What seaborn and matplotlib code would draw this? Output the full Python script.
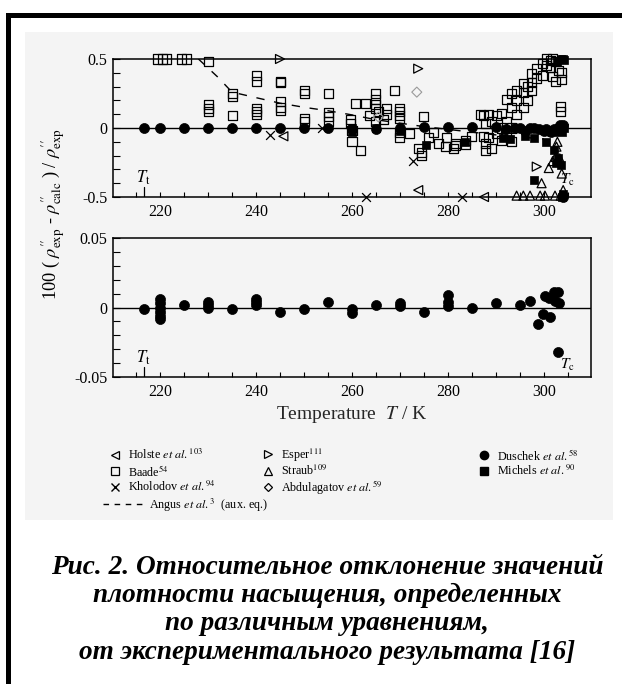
import numpy as np
import pandas as pd
import matplotlib
matplotlib.use("Agg")
import matplotlib.pyplot as plt
import seaborn as sns
from matplotlib.lines import Line2D
from matplotlib.patches import Rectangle

# ---------------- data ----------------
T_t = 216.59
T_c = 304.13

# upper panel
baade_T = [219.5, 220.5, 221.3, 224.5, 225.5,
           230, 230, 230, 230, 235, 235, 235,
           240, 240, 240, 240, 240, 245, 245, 245, 245, 245,
           250, 250, 250, 250, 255, 255, 255, 255,
           259.7, 259.7, 260, 260, 261.8, 260.8, 262.9, 263.7,
           264.8, 264.8, 264.8, 264.8, 264.8, 265.5, 266.5, 267.2, 267.2, 268.8,
           269.8, 269.8, 269.8, 269.8, 269.8, 269.8, 272, 273.8, 274.5, 274.5, 274.8,
           276, 276.9, 278, 279.4, 279.7, 281.1, 281.5, 281.5, 283.6, 283.6, 285,
           286.8, 287.3, 287.3, 287.8, 288.5, 288.5, 287.9, 287.9, 289, 289,
           290.2, 290.2, 291.2, 291.2, 291.2, 292.2, 292.2, 292.2,
           293.3, 293.3, 293.3, 293.3, 294.3, 294.3, 294.3, 295.7, 295.7, 295.7,
           296.5, 296.5, 297.4, 297.4, 297.4, 298.5, 298.5, 299.6, 299.6,
           300.6, 300.6, 301.3, 301.3, 301.7, 301.7, 302.3, 302.3, 303.0,
           303.5, 303.5, 303.6, 303.6]
baade_d = [0.5, 0.5, 0.5, 0.5, 0.5,
           0.48, 0.17, 0.14, 0.12, 0.25, 0.23, 0.09,
           0.38, 0.34, 0.14, 0.12, 0.095, 0.34, 0.33, 0.19, 0.15, 0.13,
           0.275, 0.25, 0.07, 0.05, 0.25, 0.11, 0.08, 0.05,
           0.06, 0.03, -0.02, -0.10, -0.16, 0.18, 0.18, 0.09,
           0.25, 0.21, 0.17, 0.14, 0.05, 0.12, 0.06, 0.14, 0.10, 0.275,
           0.14, 0.12, 0.09, 0.07, -0.03, -0.07, -0.04, -0.15, -0.20, -0.18, 0.08,
           -0.07, -0.03, -0.11, -0.135, -0.07, -0.15, -0.11, -0.13, -0.087, -0.12, -0.065,
           0.10, 0.09, -0.063, 0.03, -0.07, 0.10, -0.11, -0.16, -0.15, 0.05,
           0.09, -0.04, 0.106, -0.087, 0.0, 0.203, -0.04, 0.05,
           0.25, 0.15, 0.0, -0.10, 0.275, 0.20, 0.10, 0.324, 0.26, 0.15,
           0.30, 0.20, 0.396, 0.33, 0.27, 0.43, 0.36, 0.47, 0.38,
           0.5, 0.45, 0.49, 0.44, 0.37, 0.5, 0.34, 0.48, 0.42,
           0.155, 0.12, 0.40, 0.35]

duschek_T_top = [216.6, 220, 225, 230, 235, 240, 245, 250, 255, 260, 265, 270, 275,
                 280, 285, 290, 292, 294, 295, 296, 297, 298, 299, 300, 300.5, 301,
                 301.5, 302, 302.5, 303, 303.3, 303.6, 303.9, 304.0]
duschek_d_top = [0.0, 0.0, 0.0, 0.0, 0.0, 0.003, 0.0, 0.0, 0.0, -0.005, -0.005, 0.0, 0.01,
                 0.01, 0.01, 0.005, -0.01, 0.0, 0.0, -0.02, 0.0, 0.0, -0.01, -0.02, -0.01, -0.02,
                 -0.03, -0.01, -0.02, 0.0, 0.02, 0.0, 0.02, -0.5]

michels_T = [260, 260, 265, 270, 275.5, 283.5, 291.5, 293, 296, 298, 300.5, 302, 302.6,
             303, 303.5, 298, 303.7, 304, 303.5, 304, 304.2, 302.8, 303.8, 304.1]
michels_d = [0.0, -0.03, 0.0, -0.02, -0.12, -0.10, -0.075, -0.08, -0.06, -0.07, -0.10, -0.16, -0.25,
             -0.22, -0.27, -0.38, -0.5, -0.48, 0.5, 0.5, 0.49, 0.48, -0.03, 0.0]

straub_T = [294.3, 295.7, 297.1, 299.2, 300.2, 302.3, 303.5, 299.5, 301, 301.8, 302.4,
            302.6, 303.3, 303.7, 302.8, 304]
straub_d = [-0.49, -0.49, -0.49, -0.49, -0.49, -0.49, -0.49, -0.40, -0.29, -0.24, -0.21,
            -0.135, -0.22, -0.33, -0.10, -0.45]

esper_T = [245, 273.8, 298.5]
esper_d = [0.5, 0.43, -0.28]

holste_T = [245.7, 273.8, 287.5]
holste_d = [-0.06, -0.45, -0.5]

kholodov_T = [242.9, 253.7, 262.9, 272.8, 282.9]
kholodov_d = [-0.05, 0.0, -0.5, -0.24, -0.5]

abdul_T = [265.5, 273.5]
abdul_d = [0.08, 0.26]

angus_T = [228, 232, 235, 240, 245, 250, 255, 260, 265, 270, 275, 280, 285, 290, 295, 300]
angus_d = [0.5, 0.37, 0.26, 0.22, 0.18, 0.15, 0.125, 0.095, 0.06, 0.035, 0.01, -0.01,
           -0.03, -0.05, -0.065, -0.08]

# lower panel (Duschek et al.)
duschek_T_low = [216.6, 220, 220, 220, 220, 220, 220, 225, 230, 230, 230, 235,
                 240, 240, 240, 245, 250, 255, 260, 260, 265, 270, 270, 275,
                 280, 280, 280, 285, 290, 295, 297, 298.8, 299.8, 300.3, 301, 301.2,
                 302, 302.2, 303, 303.2, 303.0]
duschek_d_low = [-0.001, 0.006, 0.003, 0.0, -0.003, -0.006, -0.008, 0.002, 0.004, 0.002, 0.0, -0.001,
                 0.006, 0.004, 0.002, -0.003, -0.001, 0.004, -0.001, -0.004, 0.002, 0.003, 0.001, -0.003,
                 0.009, 0.004, 0.001, 0.0, 0.003, 0.002, 0.005, -0.012, -0.005, 0.008, 0.007, -0.007,
                 0.011, 0.005, 0.011, 0.003, -0.032]

top_yticks = [-0.5, 0, 0.5]
top_yticklabels = ["-0.5", "0", "0.5"]
low_yticks = [-0.05, 0, 0.05]
low_yticklabels = ["-0.05", "0", "0.05"]
xticks = [220, 240, 260, 280, 300]
xticklabels = ["220", "240", "260", "280", "300"]

legend_col1 = [("<", "open", r"Holste $\mathit{et\ al.}^{103}$"),
               ("s", "open", r"Baade$^{54}$"),
               ("x", "line", r"Kholodov $\mathit{et\ al.}^{94}$")]
legend_col2 = [(">", "open", r"Esper$^{111}$"),
               ("^", "open", r"Straub$^{109}$"),
               ("D", "open", r"Abdulagatov $\mathit{et\ al.}^{59}$")]
legend_col3 = [("o", "filled", r"Duschek $\mathit{et\ al.}^{58}$"),
               ("s", "filled", r"Michels $\mathit{et\ al.}^{90}$")]
legend_angus = r"Angus $\mathit{et\ al.}^{3}$  (aux. eq.)"

caption = ["Рис. 2. Относительное отклонение значений",
           "плотности насыщения, определенных",
           "по различным уравнениям,",
           "от экспериментального результата [16]"]

# ---------------- style ----------------
sns.set_theme(style="white")
plt.rcParams['font.family'] = ['Liberation Serif', 'DejaVu Serif']
plt.rcParams['mathtext.fontset'] = 'stix'
plt.rcParams['axes.edgecolor'] = 'black'
plt.rcParams['text.color'] = 'black'
plt.rcParams['xtick.color'] = 'black'
plt.rcParams['ytick.color'] = 'black'

W, H = 622, 684
fig = plt.figure(figsize=(W / 100, H / 100), dpi=100)

# scanned-figure background and page frame
fig.patches.append(Rectangle((25 / W, 1 - 520 / H), 588 / W, 488 / H, transform=fig.transFigure,
                             facecolor='#f4f4f4', edgecolor='none', zorder=-10))
fig.patches.append(Rectangle((6 / W, 1 - 18 / H), 1, 5 / H, transform=fig.transFigure,
                             facecolor='black', edgecolor='none', zorder=5))
fig.patches.append(Rectangle((6 / W, 0), 5 / W, 1 - 13 / H, transform=fig.transFigure,
                             facecolor='black', edgecolor='none', zorder=5))

ax1 = fig.add_axes([113 / W, 1 - 197 / H, 478 / W, 138 / H])
ax2 = fig.add_axes([113 / W, 1 - 377 / H, 478 / W, 139 / H])

MS_OPEN = 42
MS_FILL = 52


def pts(ax, T, d, marker, kind, s, lw=0.9, ec="black"):
    df = pd.DataFrame({"T": T, "d": d})
    if kind == "open":
        sns.scatterplot(data=df, x="T", y="d", ax=ax, marker=marker, s=s,
                        facecolor="none", edgecolor=ec, linewidth=lw,
                        clip_on=False, zorder=3, legend=False)
    elif kind == "line":
        sns.scatterplot(data=df, x="T", y="d", ax=ax, marker=marker, s=s,
                        color="black", linewidth=lw, clip_on=False, zorder=3, legend=False)
    else:
        sns.scatterplot(data=df, x="T", y="d", ax=ax, marker=marker, s=s,
                        color="black", edgecolor="black", linewidth=0.5,
                        clip_on=False, zorder=4, legend=False)


for ax in (ax1, ax2):
    ax.set_facecolor("none")
    ax.axhline(0, color="black", lw=1.0, zorder=1)

# upper panel
sns.lineplot(x=angus_T, y=angus_d, ax=ax1, color="black", lw=1.0, sort=False,
             estimator=None, linestyle=(0, (6, 7)), zorder=2)
pts(ax1, baade_T, baade_d, "s", "open", MS_OPEN)
pts(ax1, esper_T, esper_d, ">", "open", MS_OPEN)
pts(ax1, holste_T, holste_d, "<", "open", MS_OPEN)
pts(ax1, straub_T, straub_d, "^", "open", MS_OPEN)
pts(ax1, abdul_T, abdul_d, "D", "open", 26, lw=0.8, ec="#9a9a9a")
pts(ax1, kholodov_T, kholodov_d, "x", "line", 40)
pts(ax1, duschek_T_top, duschek_d_top, "o", "filled", MS_FILL)
pts(ax1, michels_T, michels_d, "s", "filled", 40)

# lower panel
pts(ax2, duschek_T_low, duschek_d_low, "o", "filled", MS_FILL)

for ax, yt, ytl, ylim, minor in ((ax1, top_yticks, top_yticklabels, (-0.5, 0.5), np.arange(-0.4, 0.45, 0.1)),
                                 (ax2, low_yticks, low_yticklabels, (-0.05, 0.05), np.arange(-0.04, 0.045, 0.01))):
    ax.set_xlim(210.2, 309.8)
    ax.set_ylim(*ylim)
    ax.set_xticks(xticks)
    ax.set_xticklabels(xticklabels)
    ax.set_xticks(np.arange(215, 310, 5), minor=True)
    ax.set_yticks(yt)
    ax.set_yticklabels(ytl)
    ax.set_yticks(minor, minor=True)
    ax.tick_params(axis="x", which="both", direction="in", length=3.6, width=0.8,
                   bottom=True, top=False, pad=5, labelsize=11.5)
    ax.tick_params(axis="y", which="both", direction="in", length=5, width=0.8,
                   left=True, right=False, pad=4, labelsize=11.5)
    ax.set_xlabel("")
    ax.set_ylabel("")
    for sp in ax.spines.values():
        sp.set_color("black")
        sp.set_linewidth(1.1)
    ax.axvline(T_t, ymin=0, ymax=0.075, color="black", lw=0.9)

ax1.text(T_t, -0.36, r"$T_{\rm t}$", ha="center", va="center", fontsize=12)
ax1.text(T_c - 0.8, -0.38, r"$T_{\rm c}$", ha="left", va="center", fontsize=11)
ax2.text(T_t, -0.036, r"$T_{\rm t}$", ha="center", va="center", fontsize=12)
ax2.text(T_c - 0.8, -0.041, r"$T_{\rm c}$", ha="left", va="center", fontsize=11)

ax2.set_xlabel(r"Temperature  $T$ / K", fontsize=14, labelpad=3)

fig.text(53 / W, 1 - 214 / H,
         r"100 ( $\rho^{\prime\prime}_{\rm exp}$ - $\rho^{\prime\prime}_{\rm calc}$ ) / $\rho^{\prime\prime}_{\rm exp}$",
         rotation=90, ha="center", va="center", fontsize=13.2)


# legends: one small legend per row so the rows sit at the reference spacing
def make_handle(m, kind, lab):
    if kind == "open":
        return Line2D([], [], marker=m, ls="none", mfc="none", mec="black", mew=0.9,
                      ms=5.5 if m != "D" else 4.5, label=lab)
    if kind == "line":
        return Line2D([], [], marker=m, ls="none", color="black", mew=1.0, ms=5.5, label=lab)
    return Line2D([], [], marker=m, ls="none", mfc="black", mec="black", ms=6, label=lab)


row_y = [455, 471, 487]
common = dict(frameon=False, fontsize=8.7, handlelength=1.0, handletextpad=0.6,
              borderpad=0, borderaxespad=0, loc="center left")
for col_x, items in ((109, legend_col1), (262, legend_col2), (478, legend_col3)):
    for (m, kind, lab), yy in zip(items, row_y):
        fig.legend(handles=[make_handle(m, kind, lab)], bbox_to_anchor=(col_x / W, 1 - yy / H), **common)
fig.legend(handles=[Line2D([], [], color="black", lw=1.0, ls=(0, (4, 4)), label=legend_angus)],
           bbox_to_anchor=(103 / W, 1 - 505 / H), frameon=False, fontsize=8.7, handlelength=3.2,
           handletextpad=0.6, borderpad=0, borderaxespad=0, loc="center left")

# caption
for i, line in enumerate(caption):
    fig.text(327 / W, 1 - (567 + 28.5 * i) / H, line, ha="center", va="center", fontsize=19.6,
             fontweight="bold", fontstyle="italic", family=["Liberation Serif", "DejaVu Serif"])

fig.savefig("out.png", dpi=100)
